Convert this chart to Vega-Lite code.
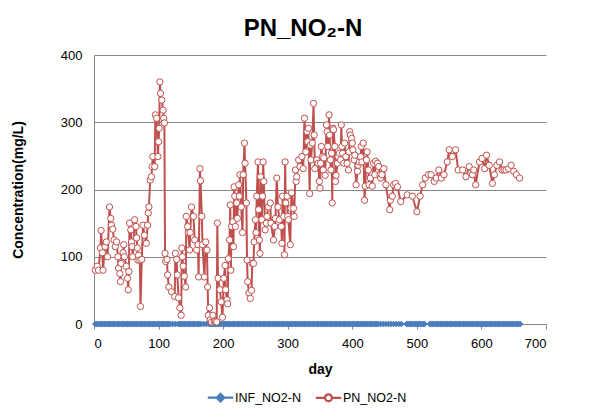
{
  "$schema": "https://vega.github.io/schema/vega-lite/v6.json",
  "width": 452,
  "height": 269,
  "autosize": {"type": "none"},
  "padding": {"left": 94, "top": 55, "right": 60, "bottom": 94},
  "background": "white",
  "title": {"text": "PN_NO₂-N", "fontSize": 24, "font": "Liberation Sans", "fontWeight": "bold", "color": "black", "anchor": "middle", "dx": -17, "offset": 8},
  "config": {
    "view": {"stroke": null},
    "axis": {"domainColor": "#868686", "tickColor": "#868686", "labelFont": "Liberation Sans", "labelFontSize": 13, "labelColor": "black", "titleFont": "Liberation Sans", "titleFontSize": 14, "titleFontWeight": "bold", "titleColor": "black", "domainWidth": 1},
    "axisY": {"ticks": false, "labelPadding": 12, "titlePadding": 35, "grid": true, "gridColor": "#868686", "gridOpacity": 1, "gridWidth": 1},
    "axisX": {"ticks": true, "tickSize": 5, "labelPadding": 8, "titlePadding": 12, "grid": false}
  },
  "datasets": {
    "inf": [
      {"d":2,"v":0},{"d":4,"v":0},{"d":6,"v":0},{"d":8,"v":0},{"d":10,"v":0},{"d":12,"v":0},{"d":14,"v":0},{"d":16,"v":0},{"d":18,"v":0},{"d":20,"v":0},{"d":22,"v":0},{"d":24,"v":0},{"d":26,"v":0},{"d":28,"v":0},{"d":30,"v":0},{"d":32,"v":0},{"d":34,"v":0},{"d":36,"v":0},{"d":38,"v":0},{"d":40,"v":0},{"d":42,"v":0},{"d":44,"v":0},{"d":46,"v":0},{"d":48,"v":0},{"d":50,"v":0},{"d":52,"v":0},{"d":54,"v":0},{"d":56,"v":0},{"d":58,"v":0},{"d":60,"v":0},{"d":62,"v":0},{"d":64,"v":0},{"d":66,"v":0},{"d":68,"v":0},{"d":70,"v":0},{"d":72,"v":0},{"d":74,"v":0},{"d":76,"v":0},{"d":78,"v":0},{"d":80,"v":0},{"d":82,"v":0},{"d":84,"v":0},{"d":86,"v":0},{"d":88,"v":0},{"d":90,"v":0},{"d":92,"v":0},{"d":94,"v":0},{"d":96,"v":0},{"d":98,"v":0},{"d":100,"v":0},{"d":102,"v":0},{"d":104,"v":0},{"d":106,"v":0},{"d":108,"v":0},{"d":110,"v":0},{"d":112,"v":0},{"d":114,"v":0},{"d":116,"v":0},{"d":118,"v":0},
      {"d":122,"v":0},{"d":126,"v":0},
      {"d":130,"v":0},{"d":132,"v":0},{"d":134,"v":0},{"d":136,"v":0},{"d":138,"v":0},{"d":140,"v":0},{"d":142,"v":0},{"d":144,"v":0},{"d":146,"v":0},{"d":148,"v":0},{"d":150,"v":0},{"d":152,"v":0},{"d":154,"v":0},{"d":156,"v":0},{"d":158,"v":0},{"d":160,"v":0},{"d":162,"v":0},{"d":164,"v":0},{"d":166,"v":0},
      {"d":170,"v":0},{"d":174,"v":0},
      {"d":178,"v":0},{"d":180,"v":0},{"d":182,"v":0},{"d":184,"v":0},{"d":186,"v":0},{"d":188,"v":0},{"d":190,"v":0},{"d":192,"v":0},{"d":194,"v":0},{"d":196,"v":0},{"d":198,"v":0},{"d":200,"v":0},{"d":202,"v":0},{"d":204,"v":0},{"d":206,"v":0},{"d":208,"v":0},{"d":210,"v":0},{"d":212,"v":0},{"d":214,"v":0},{"d":216,"v":0},{"d":218,"v":0},{"d":220,"v":0},{"d":222,"v":0},{"d":224,"v":0},{"d":226,"v":0},{"d":228,"v":0},{"d":230,"v":0},{"d":232,"v":0},{"d":234,"v":0},{"d":236,"v":0},{"d":238,"v":0},{"d":240,"v":0},{"d":242,"v":0},{"d":244,"v":0},{"d":246,"v":0},{"d":248,"v":0},{"d":250,"v":0},{"d":252,"v":0},{"d":254,"v":0},{"d":256,"v":0},{"d":258,"v":0},{"d":260,"v":0},{"d":262,"v":0},{"d":264,"v":0},{"d":266,"v":0},{"d":268,"v":0},{"d":270,"v":0},{"d":272,"v":0},{"d":274,"v":0},{"d":276,"v":0},{"d":278,"v":0},{"d":280,"v":0},{"d":282,"v":0},{"d":284,"v":0},{"d":286,"v":0},{"d":288,"v":0},{"d":290,"v":0},{"d":292,"v":0},{"d":294,"v":0},{"d":296,"v":0},{"d":298,"v":0},{"d":300,"v":0},{"d":302,"v":0},{"d":304,"v":0},{"d":306,"v":0},{"d":308,"v":0},{"d":310,"v":0},{"d":312,"v":0},{"d":314,"v":0},{"d":316,"v":0},{"d":318,"v":0},{"d":320,"v":0},{"d":322,"v":0},{"d":324,"v":0},{"d":326,"v":0},{"d":328,"v":0},{"d":330,"v":0},{"d":332,"v":0},{"d":334,"v":0},{"d":336,"v":0},{"d":338,"v":0},{"d":340,"v":0},{"d":342,"v":0},{"d":344,"v":0},{"d":346,"v":0},{"d":348,"v":0},{"d":350,"v":0},{"d":352,"v":0},{"d":354,"v":0},{"d":356,"v":0},{"d":358,"v":0},{"d":360,"v":0},{"d":362,"v":0},{"d":364,"v":0},{"d":366,"v":0},{"d":368,"v":0},{"d":370,"v":0},{"d":372,"v":0},{"d":374,"v":0},{"d":376,"v":0},{"d":378,"v":0},{"d":380,"v":0},{"d":382,"v":0},{"d":384,"v":0},{"d":386,"v":0},{"d":388,"v":0},{"d":390,"v":0},{"d":392,"v":0},{"d":394,"v":0},{"d":396,"v":0},{"d":398,"v":0},{"d":400,"v":0},{"d":402,"v":0},{"d":404,"v":0},{"d":406,"v":0},{"d":408,"v":0},{"d":410,"v":0},{"d":412,"v":0},{"d":414,"v":0},{"d":416,"v":0},{"d":418,"v":0},{"d":420,"v":0},{"d":422,"v":0},{"d":424,"v":0},{"d":426,"v":0},{"d":428,"v":0},{"d":430,"v":0},{"d":432,"v":0},{"d":434,"v":0},{"d":436,"v":0},{"d":438,"v":0},{"d":440,"v":0},
      {"d":444,"v":0},{"d":448,"v":0},{"d":452,"v":0},{"d":456,"v":0},{"d":460,"v":0},{"d":464,"v":0},{"d":468,"v":0},{"d":472,"v":0},{"d":476,"v":0},
      {"d":484,"v":0},{"d":486,"v":0},{"d":488,"v":0},{"d":490,"v":0},{"d":492,"v":0},{"d":494,"v":0},{"d":496,"v":0},{"d":498,"v":0},{"d":500,"v":0},{"d":502,"v":0},{"d":504,"v":0},{"d":506,"v":0},{"d":508,"v":0},{"d":510,"v":0},{"d":512,"v":0},
      {"d":520,"v":0},{"d":522,"v":0},{"d":524,"v":0},{"d":526,"v":0},{"d":528,"v":0},{"d":530,"v":0},{"d":532,"v":0},{"d":534,"v":0},{"d":536,"v":0},{"d":538,"v":0},{"d":540,"v":0},{"d":542,"v":0},{"d":544,"v":0},{"d":546,"v":0},{"d":548,"v":0},{"d":550,"v":0},{"d":552,"v":0},{"d":554,"v":0},{"d":556,"v":0},{"d":558,"v":0},{"d":560,"v":0},{"d":562,"v":0},{"d":564,"v":0},{"d":566,"v":0},{"d":568,"v":0},{"d":570,"v":0},{"d":572,"v":0},{"d":574,"v":0},{"d":576,"v":0},{"d":578,"v":0},{"d":580,"v":0},{"d":582,"v":0},{"d":584,"v":0},{"d":586,"v":0},{"d":588,"v":0},{"d":590,"v":0},{"d":592,"v":0},{"d":594,"v":0},{"d":596,"v":0},{"d":598,"v":0},{"d":600,"v":0},{"d":602,"v":0},{"d":604,"v":0},{"d":606,"v":0},{"d":608,"v":0},{"d":610,"v":0},{"d":612,"v":0},{"d":614,"v":0},{"d":616,"v":0},{"d":618,"v":0},{"d":620,"v":0},{"d":622,"v":0},{"d":624,"v":0},{"d":626,"v":0},{"d":628,"v":0},{"d":630,"v":0},{"d":632,"v":0},{"d":634,"v":0},{"d":636,"v":0},{"d":638,"v":0},{"d":640,"v":0},{"d":642,"v":0},{"d":644,"v":0},{"d":646,"v":0},{"d":648,"v":0},{"d":650,"v":0},{"d":652,"v":0},{"d":654,"v":0},{"d":656,"v":0},{"d":658,"v":0},{"d":660,"v":0}
    ],
    "pn": [
      {"d":2,"v":80},{"d":5,"v":86},{"d":7,"v":80},{"d":10,"v":113},{"d":11,"v":139},{"d":13,"v":106},{"d":14,"v":80},{"d":17,"v":115},{"d":19,"v":122},{"d":21,"v":100},{"d":24,"v":174},{"d":26,"v":157},{"d":27,"v":147},{"d":29,"v":141},{"d":31,"v":125},{"d":33,"v":115},{"d":35,"v":122},{"d":37,"v":100},{"d":38,"v":83},{"d":40,"v":75},{"d":41,"v":63},{"d":42,"v":90},{"d":45,"v":106},{"d":46,"v":118},{"d":47,"v":100},{"d":50,"v":86},{"d":52,"v":68},{"d":53,"v":51},{"d":54,"v":78},{"d":55,"v":150},{"d":57,"v":140},{"d":58,"v":122},{"d":59,"v":115},{"d":60,"v":100},{"d":63,"v":155},{"d":65,"v":145},{"d":66,"v":128},{"d":67,"v":113},{"d":68,"v":95},{"d":69,"v":102},{"d":71,"v":95},{"d":72,"v":26},{"d":74,"v":96},{"d":76,"v":147},{"d":78,"v":132},{"d":81,"v":120},{"d":83,"v":147},{"d":84,"v":165},{"d":85,"v":174},{"d":87,"v":214},{"d":89,"v":219},{"d":90,"v":234},{"d":91,"v":249},{"d":94,"v":234},{"d":95,"v":311},{"d":97,"v":306},{"d":99,"v":249},{"d":100,"v":271},{"d":101,"v":291},{"d":102,"v":360},{"d":103,"v":343},{"d":105,"v":333},{"d":107,"v":318},{"d":108,"v":306},{"d":109,"v":299},{"d":110,"v":105},{"d":111,"v":93},
      {"d":113,"v":96},{"d":114,"v":73},{"d":116,"v":55},{"d":120,"v":48},{"d":125,"v":41},{"d":126,"v":105},{"d":128,"v":96},{"d":129,"v":73},{"d":131,"v":39},{"d":133,"v":24},{"d":135,"v":13},{"d":136,"v":113},{"d":137,"v":100},{"d":138,"v":86},{"d":140,"v":71},{"d":142,"v":55},{"d":143,"v":160},{"d":145,"v":145},{"d":146,"v":136},{"d":148,"v":110},{"d":149,"v":136},{"d":151,"v":174},{"d":154,"v":160},{"d":156,"v":125},{"d":159,"v":110},{"d":161,"v":118},{"d":162,"v":70},{"d":164,"v":231},{"d":165,"v":213},{"d":167,"v":160},{"d":168,"v":118},{"d":171,"v":70},{"d":173,"v":122},{"d":175,"v":110},{"d":176,"v":55},{"d":177,"v":13},{"d":179,"v":24},{"d":180,"v":6},{"d":182,"v":3},{"d":184,"v":13},{"d":186,"v":4},{"d":188,"v":4},{"d":190,"v":3},{"d":191,"v":150},{"d":192,"v":68},{"d":195,"v":51},{"d":197,"v":33},{"d":199,"v":10},{"d":201,"v":68},{"d":203,"v":87},{"d":204,"v":51},{"d":206,"v":36},{"d":207,"v":30},{"d":208,"v":97},{"d":210,"v":125},{"d":211,"v":177},{"d":212,"v":80},{"d":213,"v":145},{"d":215,"v":152},{"d":216,"v":115},{"d":217,"v":204},{"d":218,"v":190},{"d":219,"v":145},{"d":221,"v":180},{"d":222,"v":157},{"d":224,"v":207},{"d":225,"v":190},{"d":226,"v":222},{"d":228,"v":174},{"d":230,"v":136},{"d":231,"v":222},{"d":233,"v":269},{"d":234,"v":239},
      {"d":236,"v":180},{"d":237,"v":95},{"d":238,"v":63},{"d":240,"v":46},{"d":242,"v":38},{"d":244,"v":50},{"d":245,"v":90},{"d":247,"v":90},{"d":248,"v":122},{"d":250,"v":155},{"d":251,"v":136},{"d":252,"v":190},{"d":254,"v":241},{"d":255,"v":170},{"d":256,"v":125},{"d":257,"v":105},{"d":258,"v":219},{"d":260,"v":155},{"d":261,"v":190},{"d":262,"v":241},{"d":263,"v":212},{"d":265,"v":140},{"d":267,"v":150},{"d":268,"v":160},{"d":270,"v":174},{"d":273,"v":180},{"d":274,"v":150},{"d":278,"v":125},{"d":280,"v":145},{"d":281,"v":157},{"d":283,"v":217},{"d":285,"v":174},{"d":287,"v":155},{"d":290,"v":145},{"d":291,"v":120},{"d":292,"v":190},{"d":294,"v":160},{"d":295,"v":103},{"d":296,"v":241},{"d":297,"v":180},{"d":299,"v":190},{"d":300,"v":160},{"d":301,"v":155},{"d":304,"v":118},{"d":305,"v":172},{"d":306,"v":195},{"d":309,"v":172},{"d":310,"v":160},{"d":312,"v":229},{"d":313,"v":212},{"d":314,"v":219},{"d":317,"v":244},{"d":319,"v":234},{"d":322,"v":249},{"d":324,"v":231},{"d":326,"v":306},{"d":328,"v":256},{"d":330,"v":286},{"d":331,"v":271},{"d":332,"v":291},{"d":334,"v":194},{"d":335,"v":266},{"d":336,"v":244},{"d":338,"v":269},{"d":340,"v":328},{"d":341,"v":281},{"d":342,"v":231},{"d":345,"v":244},{"d":347,"v":239},{"d":349,"v":212},{"d":350,"v":202},
      {"d":351,"v":239},{"d":352,"v":264},{"d":354,"v":249},{"d":355,"v":229},{"d":356,"v":247},{"d":358,"v":221},{"d":360,"v":296},{"d":361,"v":286},{"d":362,"v":264},{"d":364,"v":311},{"d":365,"v":281},{"d":366,"v":244},{"d":367,"v":229},{"d":368,"v":254},{"d":369,"v":180},{"d":370,"v":291},{"d":371,"v":289},{"d":373,"v":264},{"d":374,"v":212},{"d":375,"v":221},{"d":377,"v":239},{"d":378,"v":249},{"d":380,"v":254},{"d":382,"v":244},{"d":383,"v":296},{"d":384,"v":264},{"d":385,"v":254},{"d":387,"v":239},{"d":388,"v":269},{"d":390,"v":249},{"d":392,"v":239},{"d":394,"v":229},{"d":395,"v":256},{"d":396,"v":286},{"d":397,"v":281},{"d":399,"v":276},{"d":400,"v":269},{"d":401,"v":259},{"d":403,"v":244},{"d":404,"v":251},{"d":406,"v":207},{"d":408,"v":227},{"d":409,"v":236},{"d":411,"v":241},{"d":413,"v":249},{"d":414,"v":264},{"d":415,"v":241},{"d":417,"v":269},{"d":419,"v":184},{"d":420,"v":205},{"d":422,"v":244},{"d":423,"v":256},{"d":425,"v":229},{"d":426,"v":207},{"d":428,"v":217},{"d":431,"v":205},{"d":433,"v":239},{"d":435,"v":222},{"d":436,"v":242},{"d":439,"v":239},{"d":441,"v":234},{"d":443,"v":222},{"d":444,"v":217},{"d":446,"v":222},{"d":449,"v":231},{"d":452,"v":207},{"d":458,"v":170},{"d":459,"v":184},{"d":462,"v":190},{"d":464,"v":207},{"d":467,"v":209},
      {"d":470,"v":204},{"d":475,"v":182},{"d":485,"v":192},{"d":493,"v":190},{"d":500,"v":167},{"d":505,"v":190},{"d":509,"v":207},{"d":513,"v":217},{"d":518,"v":222},{"d":522,"v":222},{"d":527,"v":212},{"d":530,"v":217},{"d":534,"v":229},{"d":538,"v":217},{"d":542,"v":222},{"d":547,"v":241},{"d":550,"v":259},{"d":555,"v":249},{"d":560,"v":259},{"d":564,"v":229},{"d":571,"v":229},{"d":576,"v":219},{"d":581,"v":234},{"d":586,"v":222},{"d":588,"v":229},{"d":591,"v":207},{"d":597,"v":241},{"d":601,"v":246},{"d":605,"v":231},{"d":608,"v":251},{"d":612,"v":236},{"d":617,"v":209},{"d":620,"v":222},{"d":624,"v":236},{"d":628,"v":241},{"d":632,"v":229},{"d":635,"v":229},{"d":638,"v":229},{"d":642,"v":231},{"d":646,"v":236},{"d":650,"v":227},{"d":654,"v":222},{"d":659,"v":217}
    ]
  },
  "layer": [
    {
      "data": {"name": "inf"},
      "mark": {"type": "line", "strokeWidth": 2},
      "encoding": {
        "x": {"field": "d", "type": "quantitative", "scale": {"domain": [0, 700], "nice": false, "zero": false}, "axis": {"values": [0, 100, 200, 300, 400, 500, 600, 700], "title": "day", "grid": false}},
        "y": {"field": "v", "type": "quantitative", "scale": {"domain": [0, 400], "nice": false}, "axis": {"values": [0, 50, 100, 150, 200, 250, 300, 350, 400], "title": "Concentration(mg/L)", "grid": true, "gridColor": "#868686", "gridOpacity": 1, "gridWidth": 1}},
        "color": {
          "datum": "INF_NO2-N", "type": "nominal",
          "scale": {"domain": ["INF_NO2-N", "PN_NO2-N"], "range": ["#4a7ebb", "#c0504d"]},
          "legend": {
            "orient": "none", "legendX": 110, "legendY": 326, "direction": "horizontal", "title": null,
            "symbolSize": 900, "symbolStrokeWidth": 2.25, "labelFontSize": 12.5, "labelFont": "Liberation Sans", "labelColor": "black", "labelOffset": -2, "columnPadding": 10,
            "encode": {"symbols": {"update": {
              "shape": {"signal": "datum.value === 'INF_NO2-N' ? 'M-0.85,0H0.85M0,-0.25L0.25,0L0,0.25L-0.25,0Z' : 'M-0.85,0H-0.23M0.23,0H0.85M-0.23,0A0.23,0.23 0 1,0 0.23,0A0.23,0.23 0 1,0 -0.23,0Z'"},
              "fill": {"signal": "datum.value === 'INF_NO2-N' ? '#4a7ebb' : '#ffffff'"},
              "opacity": {"value": 1}
            }}}
          }
        }
      }
    },
    {
      "data": {"name": "inf"},
      "mark": {"type": "point", "shape": "diamond", "filled": true, "size": 45, "color": "#4a7ebb", "opacity": 1},
      "encoding": {
        "x": {"field": "d", "type": "quantitative"},
        "y": {"field": "v", "type": "quantitative"}
      }
    },
    {
      "data": {"name": "pn"},
      "mark": {"type": "line", "strokeWidth": 2},
      "encoding": {
        "x": {"field": "d", "type": "quantitative"},
        "y": {"field": "v", "type": "quantitative"},
        "color": {"datum": "PN_NO2-N", "type": "nominal"}
      }
    },
    {
      "data": {"name": "pn"},
      "mark": {"type": "point", "shape": "circle", "filled": true, "fill": "white", "stroke": "#c0504d", "strokeWidth": 1, "size": 40, "opacity": 1},
      "encoding": {
        "x": {"field": "d", "type": "quantitative"},
        "y": {"field": "v", "type": "quantitative"}
      }
    }
  ]
}
